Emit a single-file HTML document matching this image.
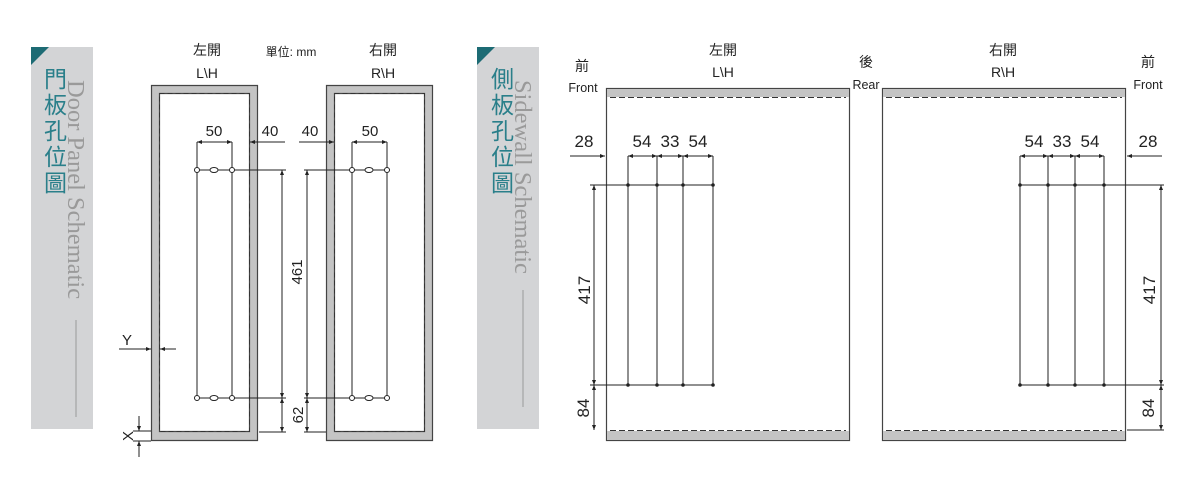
<!DOCTYPE html>
<html><head><meta charset="utf-8"><style>
html,body{margin:0;padding:0;background:#fff;width:1200px;height:481px;overflow:hidden}
svg text{font-family:"Liberation Sans","Noto Sans CJK TC",sans-serif;fill:#222}
</style></head><body>
<svg width="1200" height="481" viewBox="0 0 1200 481" xmlns="http://www.w3.org/2000/svg">
<defs>
<marker id="a" viewBox="0 0 10 10" refX="10" refY="5" markerWidth="7" markerHeight="5" orient="auto-start-reverse" markerUnits="userSpaceOnUse"><path d="M0,1 L10,5 L0,9z" fill="#222"/></marker>
</defs>
<!-- sidebars -->
<rect x="31" y="47" width="62" height="382" fill="#d3d4d6"/>
<path d="M31,47 H49 L31,65z" fill="#1d6b74"/>
<g font-size="23">
<text x="44" y="87" style="fill:#2a7f8a;font-family:'Noto Sans CJK TC'">門</text><text x="44" y="113" style="fill:#2a7f8a;font-family:'Noto Sans CJK TC'">板</text><text x="44" y="139" style="fill:#2a7f8a;font-family:'Noto Sans CJK TC'">孔</text><text x="44" y="165" style="fill:#2a7f8a;font-family:'Noto Sans CJK TC'">位</text><text x="44" y="191" style="fill:#2a7f8a;font-family:'Noto Sans CJK TC'">圖</text>
</g>
<text transform="translate(68,80) rotate(90)" font-size="24.5" style="fill:#9a9a9a;font-family:'Liberation Serif',serif">Door Panel Schematic</text>
<line x1="76" y1="320" x2="76" y2="417" stroke="#9a9a9a" stroke-width="1"/>

<rect x="477" y="47" width="62" height="382" fill="#d3d4d6"/>
<path d="M477,47 H495 L477,65z" fill="#1d6b74"/>
<g font-size="23">
<text x="491" y="87" style="fill:#2a7f8a;font-family:'Noto Sans CJK TC'">側</text><text x="491" y="113" style="fill:#2a7f8a;font-family:'Noto Sans CJK TC'">板</text><text x="491" y="139" style="fill:#2a7f8a;font-family:'Noto Sans CJK TC'">孔</text><text x="491" y="165" style="fill:#2a7f8a;font-family:'Noto Sans CJK TC'">位</text><text x="491" y="191" style="fill:#2a7f8a;font-family:'Noto Sans CJK TC'">圖</text>
</g>
<text transform="translate(515,80) rotate(90)" font-size="24.5" style="fill:#9a9a9a;font-family:'Liberation Serif',serif">Sidewall Schematic</text>
<line x1="523" y1="290" x2="523" y2="407" stroke="#9a9a9a" stroke-width="1"/>

<!-- doors -->
<g stroke="#444" stroke-width="1.2">
<path d="M151.5,85.5 H257.5 V440.5 H151.5z M159.5,93.5 V431.5 H249.5 V93.5z" fill="#c4c4c4" fill-rule="evenodd"/>
<path d="M326.5,85.5 H432.5 V440.5 H326.5z M334.5,93.5 V431.5 H424.5 V93.5z" fill="#c4c4c4" fill-rule="evenodd"/>
</g>
<g stroke="#333" stroke-width="1" stroke-dasharray="5,3" fill="none">
<rect x="159.5" y="93.5" width="90" height="338"/>
<rect x="334.5" y="93.5" width="90" height="338"/>
</g>
<g stroke="#222" stroke-width="1" fill="none">
<line x1="197" y1="170" x2="197" y2="398"/><line x1="232" y1="170" x2="232" y2="398"/>
<line x1="197" y1="170" x2="286" y2="170"/><line x1="197" y1="398" x2="286" y2="398"/>
<line x1="352" y1="170" x2="352" y2="398"/><line x1="387" y1="170" x2="387" y2="398"/>
<line x1="304" y1="170" x2="390" y2="170"/><line x1="304" y1="398" x2="390" y2="398"/>
<line x1="197" y1="142" x2="197" y2="170"/><line x1="232" y1="142" x2="232" y2="170"/>
<line x1="352" y1="142" x2="352" y2="170"/><line x1="387" y1="142" x2="387" y2="170"/>
<line x1="259" y1="432" x2="286" y2="432"/><line x1="304" y1="432" x2="326" y2="432"/>
<line x1="197" y1="142" x2="232" y2="142" marker-start="url(#a)" marker-end="url(#a)"/>
<line x1="285" y1="142" x2="250" y2="142" marker-end="url(#a)"/><line x1="250" y1="142" x2="258" y2="142"/>
<line x1="352" y1="142" x2="387" y2="142" marker-start="url(#a)" marker-end="url(#a)"/>
<line x1="299" y1="142" x2="334" y2="142" marker-end="url(#a)"/>
<line x1="282" y1="170" x2="282" y2="398" marker-start="url(#a)" marker-end="url(#a)"/>
<line x1="282" y1="398" x2="282" y2="432" marker-start="url(#a)" marker-end="url(#a)"/>
<line x1="307" y1="170" x2="307" y2="398" marker-start="url(#a)" marker-end="url(#a)"/>
<line x1="307" y1="398" x2="307" y2="432" marker-start="url(#a)" marker-end="url(#a)"/>
<line x1="119" y1="349" x2="151" y2="349" marker-end="url(#a)"/>
<line x1="176" y1="349" x2="160" y2="349" marker-end="url(#a)"/>
<line x1="139" y1="416" x2="139" y2="431" marker-end="url(#a)"/>
<line x1="139" y1="457" x2="139" y2="441" marker-end="url(#a)"/>
<line x1="133" y1="431" x2="151" y2="431"/><line x1="133" y1="441" x2="151" y2="441"/>
</g>
<g fill="#fff" stroke="#222" stroke-width="1">
<circle cx="197" cy="170" r="2.5"/><circle cx="232" cy="170" r="2.5"/><ellipse cx="214" cy="170" rx="4" ry="2.5"/>
<circle cx="197" cy="398" r="2.5"/><circle cx="232" cy="398" r="2.5"/><ellipse cx="214" cy="398" rx="4" ry="2.5"/>
<circle cx="352" cy="170" r="2.5"/><circle cx="387" cy="170" r="2.5"/><ellipse cx="369" cy="170" rx="4" ry="2.5"/>
<circle cx="352" cy="398" r="2.5"/><circle cx="387" cy="398" r="2.5"/><ellipse cx="369" cy="398" rx="4" ry="2.5"/>
</g>
<g font-size="15" text-anchor="middle">
<text x="214" y="136">50</text><text x="270" y="136">40</text>
<text x="310" y="136">40</text><text x="370" y="136">50</text>
<text transform="translate(302,272) rotate(-90)">461</text>
<text transform="translate(303,415) rotate(-90)">62</text>
<text x="127" y="345">Y</text>
<text transform="translate(133,436) rotate(-90)">X</text>
</g>
<g font-size="14" text-anchor="middle">
<text x="207" y="55">左開</text><text x="207" y="78">L\H</text>
<text x="383" y="55">右開</text><text x="383" y="78">R\H</text>
<text x="291" y="56" font-size="12">單位: mm</text>
</g>

<!-- sidewalls -->
<g stroke="#444" stroke-width="1.2">
<rect x="606.5" y="88.5" width="243" height="352" fill="#fff"/>
<rect x="882.5" y="88.5" width="243" height="352" fill="#fff"/>
</g>
<g fill="#c4c4c4">
<rect x="607" y="89" width="242" height="8"/><rect x="607" y="431" width="242" height="9"/>
<rect x="883" y="89" width="242" height="8"/><rect x="883" y="431" width="242" height="9"/>
</g>
<g stroke="#333" stroke-width="1" stroke-dasharray="6,3">
<line x1="610" y1="97.5" x2="846" y2="97.5"/><line x1="610" y1="430.5" x2="846" y2="430.5"/>
<line x1="886" y1="97.5" x2="1122" y2="97.5"/><line x1="886" y1="430.5" x2="1122" y2="430.5"/>
</g>
<g stroke="#222" stroke-width="1" fill="none">
<line x1="628" y1="156" x2="628" y2="385"/><line x1="657" y1="156" x2="657" y2="385"/><line x1="683" y1="156" x2="683" y2="385"/><line x1="713" y1="156" x2="713" y2="385"/>
<line x1="590" y1="185" x2="713" y2="185"/><line x1="590" y1="385" x2="713" y2="385"/>
<line x1="570" y1="156" x2="605" y2="156" marker-end="url(#a)"/>
<line x1="628" y1="156" x2="657" y2="156" marker-start="url(#a)" marker-end="url(#a)"/>
<line x1="657" y1="156" x2="683" y2="156" marker-start="url(#a)" marker-end="url(#a)"/>
<line x1="683" y1="156" x2="713" y2="156" marker-start="url(#a)" marker-end="url(#a)"/>
<line x1="594" y1="185" x2="594" y2="385" marker-start="url(#a)" marker-end="url(#a)"/>
<line x1="594" y1="385" x2="594" y2="430" marker-start="url(#a)" marker-end="url(#a)"/>

<line x1="1020" y1="156" x2="1020" y2="385"/><line x1="1048" y1="156" x2="1048" y2="385"/><line x1="1075" y1="156" x2="1075" y2="385"/><line x1="1104" y1="156" x2="1104" y2="385"/>
<line x1="1020" y1="185" x2="1164" y2="185"/><line x1="1020" y1="385" x2="1164" y2="385"/>
<line x1="1162" y1="156" x2="1127" y2="156" marker-end="url(#a)"/>
<line x1="1020" y1="156" x2="1048" y2="156" marker-start="url(#a)" marker-end="url(#a)"/>
<line x1="1048" y1="156" x2="1075" y2="156" marker-start="url(#a)" marker-end="url(#a)"/>
<line x1="1075" y1="156" x2="1104" y2="156" marker-start="url(#a)" marker-end="url(#a)"/>
<line x1="1161" y1="185" x2="1161" y2="385" marker-start="url(#a)" marker-end="url(#a)"/>
<line x1="1161" y1="385" x2="1161" y2="430" marker-start="url(#a)" marker-end="url(#a)"/>
<line x1="1127" y1="430" x2="1164" y2="430"/>
</g>
<g fill="#222">
<circle cx="628" cy="185" r="1.8"/><circle cx="657" cy="185" r="1.8"/><circle cx="683" cy="185" r="1.8"/><circle cx="713" cy="185" r="1.8"/>
<circle cx="628" cy="385" r="1.8"/><circle cx="657" cy="385" r="1.8"/><circle cx="683" cy="385" r="1.8"/><circle cx="713" cy="385" r="1.8"/>
<circle cx="1020" cy="185" r="1.8"/><circle cx="1048" cy="185" r="1.8"/><circle cx="1075" cy="185" r="1.8"/><circle cx="1104" cy="185" r="1.8"/>
<circle cx="1020" cy="385" r="1.8"/><circle cx="1048" cy="385" r="1.8"/><circle cx="1075" cy="385" r="1.8"/><circle cx="1104" cy="385" r="1.8"/>
</g>
<g font-size="17" text-anchor="middle">
<text x="584" y="147">28</text><text x="642" y="147">54</text><text x="670" y="147">33</text><text x="698" y="147">54</text>
<text x="1034" y="147">54</text><text x="1062" y="147">33</text><text x="1090" y="147">54</text><text x="1148" y="147">28</text>
<text transform="translate(590,290) rotate(-90)">417</text>
<text transform="translate(589,408) rotate(-90)">84</text>
<text transform="translate(1155,290) rotate(-90)">417</text>
<text transform="translate(1154,408) rotate(-90)">84</text>
</g>
<g font-size="14" text-anchor="middle">
<text x="723" y="55">左開</text><text x="723" y="77">L\H</text>
<text x="1003" y="55">右開</text><text x="1003" y="77">R\H</text>
<text x="582" y="71">前</text><text x="583" y="92" font-size="12.5">Front</text>
<text x="866" y="67">後</text><text x="866" y="89" font-size="12.5">Rear</text>
<text x="1148" y="67">前</text><text x="1148" y="89" font-size="12.5">Front</text>
</g>
</svg>
</body></html>
